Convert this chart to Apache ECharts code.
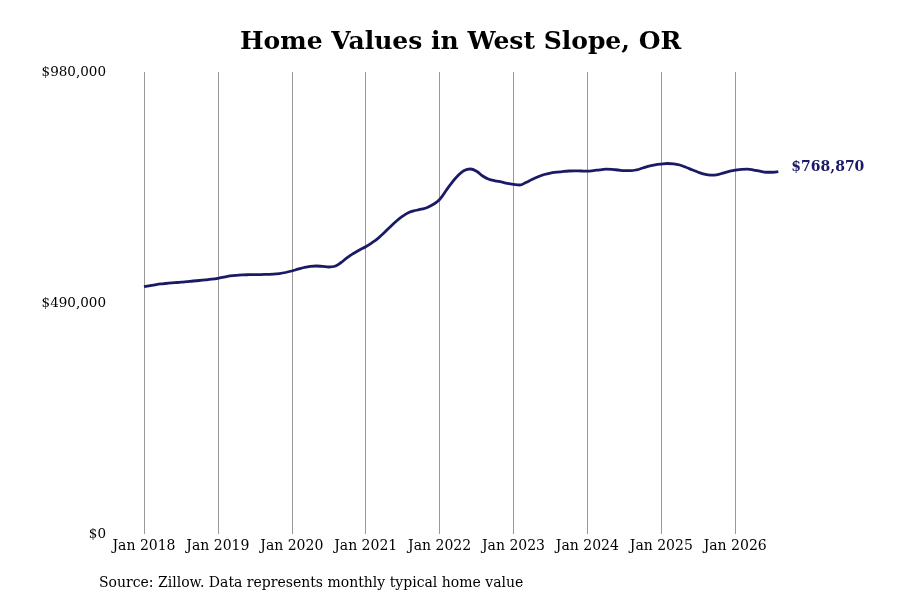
<!DOCTYPE html>
<html>
<head>
<meta charset="utf-8">
<script src="https://cdn.jsdelivr.net/npm/echarts@6/dist/echarts.min.js"></script>
<style>
  html, body { margin: 0; padding: 0; background: #fff; }
  #chart { width: 900px; height: 600px; }
</style>
</head>
<body>
<div id="chart"></div>
<script>
var monthNames = ['Jan', 'Feb', 'Mar', 'Apr', 'May', 'Jun', 'Jul', 'Aug', 'Sep', 'Oct', 'Nov', 'Dec']
var years = [2018, 2019, 2020, 2021, 2022, 2023, 2024, 2025, 2026]

// typical home value, one per month, Jan 2018 .. Aug 2026
var values2018 = [524600, 527100, 529200, 530700, 532000, 533100, 534100, 535400, 536700, 537700, 539000, 540500]
var values2019 = [542400, 544700, 547300, 548800, 549600, 550000, 550200, 550400, 550700, 551100, 552400, 554700]
var values2020 = [557900, 561700, 565300, 567800, 568500, 567600, 566400, 568000, 575900, 586500, 595000, 602400]
var values2021 = [609400, 617700, 627200, 638900, 651800, 663900, 674100, 682000, 686200, 689000, 692600, 699400]
var values2022 = [709500, 727600, 745600, 760400, 771100, 774200, 769600, 759400, 752600, 749200, 746700, 743900]
var values2023 = [741800, 740300, 745600, 752000, 757700, 762600, 765700, 767400, 768900, 770000, 770400, 770000]
var values2024 = [769600, 770800, 772500, 773800, 773400, 772100, 770800, 770600, 772500, 776400, 780200, 783100]
var values2025 = [784800, 785900, 785300, 782700, 778000, 772500, 767400, 763200, 761100, 761900, 765300, 769200]
var values2026 = [771700, 773600, 773800, 772100, 769600, 767400, 767400, 768870]

var yTicks = [0, 490000, 980000]

var values = [].concat(values2018, values2019, values2020, values2021, values2022,
    values2023, values2024, values2025, values2026)

var months = []
years.forEach(function (y) {
    monthNames.forEach(function (m) {
        months.push(m + ' ' + y)
    })
})
months = months.slice(0, values.length)

var font = 'DejaVu Serif'
var navy = '#1a1a66'

function money(v) {
    return '$' + Math.round(v).toString().replace(/\B(?=(\d{3})+(?!\d))/g, ',')
}

var chart = echarts.init(document.getElementById('chart'))

chart.setOption({
    backgroundColor: '#fff',
    animation: false,
    title: {
        text: 'Home Values in West Slope, OR',
        left: 235,
        top: 25,
        textStyle: { fontFamily: font, fontSize: 25, fontWeight: 'bold', color: '#000' }
    },
    graphic: [{
        type: 'text',
        left: 99,
        top: 576,
        style: {
            text: 'Source: Zillow. Data represents monthly typical home value',
            font: '14px "DejaVu Serif"',
            fill: '#000'
        }
    }],
    grid: { left: 144, right: 121.7, top: 72, bottom: 66 },
    xAxis: {
        type: 'category',
        data: months,
        boundaryGap: false,
        axisLine: { show: false },
        axisTick: { show: false },
        axisLabel: {
            interval: 11,
            margin: 5,
            fontFamily: font,
            fontSize: 14,
            color: '#000'
        },
        splitLine: {
            show: true,
            interval: 11,
            lineStyle: { color: '#999', width: 1 }
        }
    },
    yAxis: {
        type: 'value',
        min: yTicks[0],
        max: yTicks[2],
        interval: yTicks[1] - yTicks[0],
        axisLine: { show: false },
        axisTick: { show: false },
        splitLine: { show: false },
        axisLabel: {
            margin: 38,
            padding: [7, 0, 0, 0],
            fontFamily: font,
            fontSize: 13.5,
            color: '#000',
            formatter: money
        }
    },
    series: [{
        type: 'line',
        data: values,
        smooth: 0.4,
        symbol: 'none',
        lineStyle: { color: navy, width: 2.8 },
        endLabel: {
            show: true,
            distance: 13,
            offset: [0, -4],
            formatter: function (p) { return money(p.value) },
            fontFamily: font,
            fontSize: 14,
            fontWeight: 'bold',
            color: navy
        }
    }]
})
</script>
</body>
</html>
